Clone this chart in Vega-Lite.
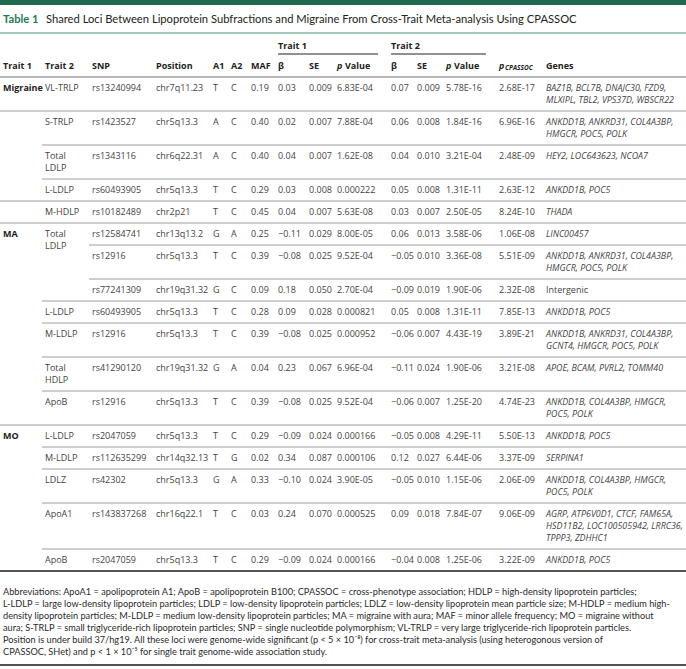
{
  "$schema": "https://vega.github.io/schema/vega-lite/v6.json",
  "width": 686,
  "height": 669,
  "padding": 0,
  "autosize": {"type": "none"},
  "background": "white",
  "config": {"view": {"stroke": null}},
  "datasets": {
    "cols": [
      {"key": "trait1", "c": 0}, {"key": "trait2", "c": 1}, {"key": "snp", "c": 2}, {"key": "position", "c": 3},
      {"key": "a1", "c": 4}, {"key": "a2", "c": 5}, {"key": "maf", "c": 6}, {"key": "beta1", "c": 7},
      {"key": "se1", "c": 8}, {"key": "p1", "c": 9}, {"key": "beta2", "c": 10}, {"key": "se2", "c": 11},
      {"key": "p2", "c": 12}, {"key": "pcp", "c": 13}, {"key": "genes", "c": 14}
    ],
    "table": [
      {"r": 1, "trait1": "Migraine", "trait2": "VL-TRLP", "snp": "rs13240994", "position": "chr7q11.23", "a1": "T", "a2": "C", "maf": "0.19", "beta1": "0.03", "se1": "0.009", "p1": "6.83E-04", "beta2": "0.07", "se2": "0.009", "p2": "5.78E-16", "pcp": "2.68E-17", "genes": "BAZ1B, BCL7B, DNAJC30, FZD9,\nMLXIPL, TBL2, VPS37D, WBSCR22"},
      {"r": 2, "trait2": "S-TRLP", "snp": "rs1423527", "position": "chr5q13.3", "a1": "A", "a2": "C", "maf": "0.40", "beta1": "0.02", "se1": "0.007", "p1": "7.88E-04", "beta2": "0.06", "se2": "0.008", "p2": "1.84E-16", "pcp": "6.96E-16", "genes": "ANKDD1B, ANKRD31, COL4A3BP,\nHMGCR, POC5, POLK"},
      {"r": 3, "trait2": "Total\nLDLP", "snp": "rs1343116", "position": "chr6q22.31", "a1": "A", "a2": "C", "maf": "0.40", "beta1": "0.04", "se1": "0.007", "p1": "1.62E-08", "beta2": "0.04", "se2": "0.010", "p2": "3.21E-04", "pcp": "2.48E-09", "genes": "HEY2, LOC643623, NCOA7"},
      {"r": 4, "trait2": "L-LDLP", "snp": "rs60493905", "position": "chr5q13.3", "a1": "T", "a2": "C", "maf": "0.29", "beta1": "0.03", "se1": "0.008", "p1": "0.000222", "beta2": "0.05", "se2": "0.008", "p2": "1.31E-11", "pcp": "2.63E-12", "genes": "ANKDD1B, POC5"},
      {"r": 5, "trait2": "M-HDLP", "snp": "rs10182489", "position": "chr2p21", "a1": "T", "a2": "C", "maf": "0.45", "beta1": "0.04", "se1": "0.007", "p1": "5.63E-08", "beta2": "0.03", "se2": "0.007", "p2": "2.50E-05", "pcp": "8.24E-10", "genes": "THADA"},
      {"r": 6, "trait1": "MA", "trait2": "Total\nLDLP", "snp": "rs12584741", "position": "chr13q13.2", "a1": "G", "a2": "A", "maf": "0.25", "beta1": "−0.11", "se1": "0.029", "p1": "8.00E-05", "beta2": "0.06", "se2": "0.013", "p2": "3.58E-06", "pcp": "1.06E-08", "genes": "LINC00457"},
      {"r": 7, "snp": "rs12916", "position": "chr5q13.3", "a1": "T", "a2": "C", "maf": "0.39", "beta1": "−0.08", "se1": "0.025", "p1": "9.52E-04", "beta2": "−0.05", "se2": "0.010", "p2": "3.36E-08", "pcp": "5.51E-09", "genes": "ANKDD1B, ANKRD31, COL4A3BP,\nHMGCR, POC5, POLK"},
      {"r": 8, "snp": "rs77241309", "position": "chr19q31.32", "a1": "G", "a2": "C", "maf": "0.09", "beta1": "0.18", "se1": "0.050", "p1": "2.70E-04", "beta2": "−0.09", "se2": "0.019", "p2": "1.90E-06", "pcp": "2.32E-08", "genes": "Intergenic"},
      {"r": 9, "trait2": "L-LDLP", "snp": "rs60493905", "position": "chr5q13.3", "a1": "T", "a2": "C", "maf": "0.28", "beta1": "0.09", "se1": "0.028", "p1": "0.000821", "beta2": "0.05", "se2": "0.008", "p2": "1.31E-11", "pcp": "7.85E-13", "genes": "ANKDD1B, POC5"},
      {"r": 10, "trait2": "M-LDLP", "snp": "rs12916", "position": "chr5q13.3", "a1": "T", "a2": "C", "maf": "0.39", "beta1": "−0.08", "se1": "0.025", "p1": "0.000952", "beta2": "−0.06", "se2": "0.007", "p2": "4.43E-19", "pcp": "3.89E-21", "genes": "ANKDD1B, ANKRD31, COL4A3BP,\nGCNT4, HMGCR, POC5, POLK"},
      {"r": 11, "trait2": "Total\nHDLP", "snp": "rs41290120", "position": "chr19q31.32", "a1": "G", "a2": "A", "maf": "0.04", "beta1": "0.23", "se1": "0.067", "p1": "6.96E-04", "beta2": "−0.11", "se2": "0.024", "p2": "1.90E-06", "pcp": "3.21E-08", "genes": "APOE, BCAM, PVRL2, TOMM40"},
      {"r": 12, "trait2": "ApoB", "snp": "rs12916", "position": "chr5q13.3", "a1": "T", "a2": "C", "maf": "0.39", "beta1": "−0.08", "se1": "0.025", "p1": "9.52E-04", "beta2": "−0.06", "se2": "0.007", "p2": "1.25E-20", "pcp": "4.74E-23", "genes": "ANKDD1B, COL4A3BP, HMGCR,\nPOC5, POLK"},
      {"r": 13, "trait1": "MO", "trait2": "L-LDLP", "snp": "rs2047059", "position": "chr5q13.3", "a1": "T", "a2": "C", "maf": "0.29", "beta1": "−0.09", "se1": "0.024", "p1": "0.000166", "beta2": "−0.05", "se2": "0.008", "p2": "4.29E-11", "pcp": "5.50E-13", "genes": "ANKDD1B, POC5"},
      {"r": 14, "trait2": "M-LDLP", "snp": "rs112635299", "position": "chr14q32.13", "a1": "T", "a2": "G", "maf": "0.02", "beta1": "0.34", "se1": "0.087", "p1": "0.000106", "beta2": "0.12", "se2": "0.027", "p2": "6.44E-06", "pcp": "3.37E-09", "genes": "SERPINA1"},
      {"r": 15, "trait2": "LDLZ", "snp": "rs42302", "position": "chr5q13.3", "a1": "G", "a2": "A", "maf": "0.33", "beta1": "−0.10", "se1": "0.024", "p1": "3.90E-05", "beta2": "−0.05", "se2": "0.010", "p2": "1.15E-06", "pcp": "2.06E-09", "genes": "ANKDD1B, COL4A3BP, HMGCR,\nPOC5, POLK"},
      {"r": 16, "trait2": "ApoA1", "snp": "rs143837268", "position": "chr16q22.1", "a1": "T", "a2": "C", "maf": "0.03", "beta1": "0.24", "se1": "0.070", "p1": "0.000525", "beta2": "0.09", "se2": "0.018", "p2": "7.84E-07", "pcp": "9.06E-09", "genes": "AGRP, ATP6V0D1, CTCF, FAM65A,\nHSD11B2, LOC100505942, LRRC36,\nTPPP3, ZDHHC1"},
      {"r": 17, "trait2": "ApoB", "snp": "rs2047059", "position": "chr5q13.3", "a1": "T", "a2": "C", "maf": "0.29", "beta1": "−0.09", "se1": "0.024", "p1": "0.000166", "beta2": "−0.04", "se2": "0.008", "p2": "1.25E-06", "pcp": "3.22E-09", "genes": "ANKDD1B, POC5"}
    ],
    "rules": [
      {"r": -5, "from": "trait1", "kind": "bar"},
      {"r": -3, "from": "trait1", "kind": "title"},
      {"r": 1, "from": "trait1", "kind": "header"},
      {"r": 2, "from": "trait1", "kind": "row"},
      {"r": 3, "from": "trait2", "kind": "row"},
      {"r": 4, "from": "trait2", "kind": "row"},
      {"r": 5, "from": "trait1", "kind": "row"},
      {"r": 6, "from": "trait1", "kind": "row"},
      {"r": 7, "from": "snp", "kind": "row"},
      {"r": 8, "from": "snp", "kind": "row"},
      {"r": 9, "from": "trait2", "kind": "row"},
      {"r": 10, "from": "trait2", "kind": "row"},
      {"r": 11, "from": "trait2", "kind": "row"},
      {"r": 12, "from": "trait2", "kind": "row"},
      {"r": 13, "from": "trait1", "kind": "row"},
      {"r": 14, "from": "trait2", "kind": "row"},
      {"r": 15, "from": "trait2", "kind": "row"},
      {"r": 16, "from": "trait2", "kind": "row"},
      {"r": 17, "from": "trait2", "kind": "row"},
      {"r": 18, "from": "trait1", "kind": "end"},
      {"r": 25, "from": "trait1", "kind": "foot"}
    ],
    "groups": [
      {"label": "Trait 1", "from": "beta1", "to": "beta2"},
      {"label": "Trait 2", "from": "beta2", "to": "pcp"}
    ],
    "headers": [
      {"key": "trait1", "t": "Trait 1"}, {"key": "trait2", "t": "Trait 2"}, {"key": "snp", "t": "SNP"},
      {"key": "position", "t": "Position"}, {"key": "a1", "t": "A1"}, {"key": "a2", "t": "A2"},
      {"key": "maf", "t": "MAF"}, {"key": "beta1", "t": "β"}, {"key": "se1", "t": "SE"},
      {"key": "beta2", "t": "β"}, {"key": "se2", "t": "SE"}, {"key": "genes", "t": "Genes"}
    ],
    "headerP": [{"key": "p1", "t": "p"}, {"key": "p2", "t": "p"}, {"key": "pcp", "t": "p"}],
    "headerValue": [{"key": "p1", "t": "Value"}, {"key": "p2", "t": "Value"}],
    "headerSub": [{"key": "pcp", "t": "CPASSOC"}],
    "title": [
      {"line": -4, "part": "label", "t": "Table 1"},
      {"line": -4, "part": "caption", "t": "Shared Loci Between Lipoprotein Subfractions and Migraine From Cross-Trait Meta-analysis Using CPASSOC"}
    ],
    "notes": [
      {"line": 19, "t": "Abbreviations: ApoA1 = apolipoprotein A1; ApoB = apolipoprotein B100; CPASSOC = cross-phenotype association; HDLP = high-density lipoprotein particles;"},
      {"line": 20, "t": "L-LDLP = large low-density lipoprotein particles; LDLP = low-density lipoprotein particles; LDLZ = low-density lipoprotein mean particle size; M-HDLP = medium high-"},
      {"line": 21, "t": "density lipoprotein particles; M-LDLP = medium low-density lipoprotein particles; MA = migraine with aura; MAF = minor allele frequency; MO = migraine without"},
      {"line": 22, "t": "aura; S-TRLP = small triglyceride-rich lipoprotein particles; SNP = single nucleotide polymorphism; VL-TRLP = very large triglyceride-rich lipoprotein particles."},
      {"line": 23, "t": "Position is under build 37/hg19. All these loci were genome-wide significant (p < 5 × 10⁻⁸) for cross-trait meta-analysis (using heterogonous version of"},
      {"line": 24, "t": "CPASSOC, SHet) and p < 1 × 10⁻⁵ for single trait genome-wide association study."}
    ]
  },
  "layer": [
    {
      "data": {"name": "rules"},
      "transform": [
        {"filter": "datum.kind == 'bar'"},
        {"lookup": "from", "from": {"data": {"name": "cols"}, "key": "key", "fields": ["c"]}}
      ],
      "mark": {"type": "rule", "xOffset": -3, "color": "#1f6a4f", "strokeWidth": 10},
      "encoding": {
        "x": {"field": "c", "type": "quantitative", "axis": null, "scale": {"domain": [-1,0,1,2,3,4,5,6,7,8,9,10,11,12,13,14,15], "range": [0,3,45,92,156,213,231,251,278,309,337,391,417,446,499,546,686], "zero": false, "nice": false}},
        "x2": {"datum": 15},
        "y": {"field": "r", "type": "quantitative", "axis": null, "scale": {"domain": [-5,-4,-3,-2,-1,0,1,2,3,4,5,6,7,8,9,10,11,12,13,14,15,16,17,18,19,20,21,22,23,24,25], "range": [0,20,33,46,54,55,77,111,145,179,201,223,245,279,301,323,357,391,425,447,469,503,549,571,592,604,616,628,640,652,665], "zero": false, "nice": false}}
      }
    },
    {
      "data": {"name": "rules"},
      "transform": [
        {"filter": "datum.kind == 'title' || datum.kind == 'header' || datum.kind == 'row'"},
        {"lookup": "from", "from": {"data": {"name": "cols"}, "key": "key", "fields": ["c"]}}
      ],
      "mark": {"type": "rule", "xOffset": -3, "strokeWidth": 1},
      "encoding": {
        "x": {"field": "c", "type": "quantitative", "axis": null, "scale": {"domain": [-1,0,1,2,3,4,5,6,7,8,9,10,11,12,13,14,15], "range": [0,3,45,92,156,213,231,251,278,309,337,391,417,446,499,546,686], "zero": false, "nice": false}},
        "x2": {"datum": 15},
        "y": {"field": "r", "type": "quantitative", "axis": null, "scale": {"domain": [-5,-4,-3,-2,-1,0,1,2,3,4,5,6,7,8,9,10,11,12,13,14,15,16,17,18,19,20,21,22,23,24,25], "range": [0,20,33,46,54,55,77,111,145,179,201,223,245,279,301,323,357,391,425,447,469,503,549,571,592,604,616,628,640,652,665], "zero": false, "nice": false}},
        "color": {"field": "kind", "type": "nominal", "legend": null, "scale": {"domain": ["title","header","row"], "range": ["#4a9474","#707070","#9c9c9c"]}}
      }
    },
    {
      "data": {"name": "rules"},
      "transform": [
        {"filter": "datum.kind == 'end' || datum.kind == 'foot'"},
        {"lookup": "from", "from": {"data": {"name": "cols"}, "key": "key", "fields": ["c"]}}
      ],
      "mark": {"type": "rule", "xOffset": -3, "strokeWidth": 1.6, "color": "#1a1a1a"},
      "encoding": {
        "x": {"field": "c", "type": "quantitative", "axis": null, "scale": {"domain": [-1,0,1,2,3,4,5,6,7,8,9,10,11,12,13,14,15], "range": [0,3,45,92,156,213,231,251,278,309,337,391,417,446,499,546,686], "zero": false, "nice": false}},
        "x2": {"datum": 15},
        "y": {"field": "r", "type": "quantitative", "axis": null, "scale": {"domain": [-5,-4,-3,-2,-1,0,1,2,3,4,5,6,7,8,9,10,11,12,13,14,15,16,17,18,19,20,21,22,23,24,25], "range": [0,20,33,46,54,55,77,111,145,179,201,223,245,279,301,323,357,391,425,447,469,503,549,571,592,604,616,628,640,652,665], "zero": false, "nice": false}}
      }
    },
    {
      "data": {"name": "groups"},
      "transform": [
        {"lookup": "from", "from": {"data": {"name": "cols"}, "key": "key", "fields": ["c"]}},
        {"lookup": "to", "from": {"data": {"name": "cols"}, "key": "key", "fields": ["c"]}, "as": ["c2"]}
      ],
      "mark": {"type": "rule", "color": "#222222", "strokeWidth": 1, "x2Offset": -13},
      "encoding": {
        "x": {"field": "c", "type": "quantitative", "axis": null, "scale": {"domain": [-1,0,1,2,3,4,5,6,7,8,9,10,11,12,13,14,15], "range": [0,3,45,92,156,213,231,251,278,309,337,391,417,446,499,546,686], "zero": false, "nice": false}},
        "x2": {"field": "c2"},
        "y": {"datum": -1, "type": "quantitative", "axis": null, "scale": {"domain": [-5,-4,-3,-2,-1,0,1,2,3,4,5,6,7,8,9,10,11,12,13,14,15,16,17,18,19,20,21,22,23,24,25], "range": [0,20,33,46,54,55,77,111,145,179,201,223,245,279,301,323,357,391,425,447,469,503,549,571,592,604,616,628,640,652,665], "zero": false, "nice": false}}
      }
    },
    {
      "data": {"name": "groups"},
      "transform": [{"lookup": "from", "from": {"data": {"name": "cols"}, "key": "key", "fields": ["c"]}}],
      "mark": {"type": "text", "font": "Open Sans", "fontSize": 9, "fontWeight": "bold", "color": "#222222", "align": "left", "baseline": "middle"},
      "encoding": {
        "x": {"field": "c", "type": "quantitative", "axis": null, "scale": {"domain": [-1,0,1,2,3,4,5,6,7,8,9,10,11,12,13,14,15], "range": [0,3,45,92,156,213,231,251,278,309,337,391,417,446,499,546,686], "zero": false, "nice": false}},
        "y": {"datum": -2, "type": "quantitative", "axis": null, "scale": {"domain": [-5,-4,-3,-2,-1,0,1,2,3,4,5,6,7,8,9,10,11,12,13,14,15,16,17,18,19,20,21,22,23,24,25], "range": [0,20,33,46,54,55,77,111,145,179,201,223,245,279,301,323,357,391,425,447,469,503,549,571,592,604,616,628,640,652,665], "zero": false, "nice": false}},
        "text": {"field": "label", "type": "nominal"}
      }
    },
    {
      "data": {"name": "headers"},
      "transform": [{"lookup": "key", "from": {"data": {"name": "cols"}, "key": "key", "fields": ["c"]}}],
      "mark": {"type": "text", "font": "Open Sans", "fontSize": 9, "fontWeight": "bold", "color": "#222222", "align": "left", "baseline": "alphabetic", "dy": 13.5},
      "encoding": {
        "x": {"field": "c", "type": "quantitative", "axis": null, "scale": {"domain": [-1,0,1,2,3,4,5,6,7,8,9,10,11,12,13,14,15], "range": [0,3,45,92,156,213,231,251,278,309,337,391,417,446,499,546,686], "zero": false, "nice": false}},
        "y": {"datum": 0, "type": "quantitative", "axis": null, "scale": {"domain": [-5,-4,-3,-2,-1,0,1,2,3,4,5,6,7,8,9,10,11,12,13,14,15,16,17,18,19,20,21,22,23,24,25], "range": [0,20,33,46,54,55,77,111,145,179,201,223,245,279,301,323,357,391,425,447,469,503,549,571,592,604,616,628,640,652,665], "zero": false, "nice": false}},
        "text": {"field": "t", "type": "nominal"}
      }
    },
    {
      "data": {"name": "headerP"},
      "transform": [{"lookup": "key", "from": {"data": {"name": "cols"}, "key": "key", "fields": ["c"]}}],
      "mark": {"type": "text", "font": "Open Sans", "fontSize": 9, "fontWeight": "bold", "fontStyle": "italic", "color": "#222222", "align": "left", "baseline": "alphabetic", "dy": 13.5},
      "encoding": {
        "x": {"field": "c", "type": "quantitative", "axis": null, "scale": {"domain": [-1,0,1,2,3,4,5,6,7,8,9,10,11,12,13,14,15], "range": [0,3,45,92,156,213,231,251,278,309,337,391,417,446,499,546,686], "zero": false, "nice": false}},
        "y": {"datum": 0, "type": "quantitative", "axis": null, "scale": {"domain": [-5,-4,-3,-2,-1,0,1,2,3,4,5,6,7,8,9,10,11,12,13,14,15,16,17,18,19,20,21,22,23,24,25], "range": [0,20,33,46,54,55,77,111,145,179,201,223,245,279,301,323,357,391,425,447,469,503,549,571,592,604,616,628,640,652,665], "zero": false, "nice": false}},
        "text": {"field": "t", "type": "nominal"}
      }
    },
    {
      "data": {"name": "headerValue"},
      "transform": [{"lookup": "key", "from": {"data": {"name": "cols"}, "key": "key", "fields": ["c"]}}],
      "mark": {"type": "text", "font": "Open Sans", "fontSize": 9, "fontWeight": "bold", "color": "#222222", "align": "left", "baseline": "alphabetic", "dy": 13.5, "dx": 8},
      "encoding": {
        "x": {"field": "c", "type": "quantitative", "axis": null, "scale": {"domain": [-1,0,1,2,3,4,5,6,7,8,9,10,11,12,13,14,15], "range": [0,3,45,92,156,213,231,251,278,309,337,391,417,446,499,546,686], "zero": false, "nice": false}},
        "y": {"datum": 0, "type": "quantitative", "axis": null, "scale": {"domain": [-5,-4,-3,-2,-1,0,1,2,3,4,5,6,7,8,9,10,11,12,13,14,15,16,17,18,19,20,21,22,23,24,25], "range": [0,20,33,46,54,55,77,111,145,179,201,223,245,279,301,323,357,391,425,447,469,503,549,571,592,604,616,628,640,652,665], "zero": false, "nice": false}},
        "text": {"field": "t", "type": "nominal"}
      }
    },
    {
      "data": {"name": "headerSub"},
      "transform": [{"lookup": "key", "from": {"data": {"name": "cols"}, "key": "key", "fields": ["c"]}}],
      "mark": {"type": "text", "font": "Open Sans", "fontSize": 6.5, "fontWeight": "bold", "fontStyle": "italic", "color": "#222222", "align": "left", "baseline": "alphabetic", "dy": 15, "dx": 6},
      "encoding": {
        "x": {"field": "c", "type": "quantitative", "axis": null, "scale": {"domain": [-1,0,1,2,3,4,5,6,7,8,9,10,11,12,13,14,15], "range": [0,3,45,92,156,213,231,251,278,309,337,391,417,446,499,546,686], "zero": false, "nice": false}},
        "y": {"datum": 0, "type": "quantitative", "axis": null, "scale": {"domain": [-5,-4,-3,-2,-1,0,1,2,3,4,5,6,7,8,9,10,11,12,13,14,15,16,17,18,19,20,21,22,23,24,25], "range": [0,20,33,46,54,55,77,111,145,179,201,223,245,279,301,323,357,391,425,447,469,503,549,571,592,604,616,628,640,652,665], "zero": false, "nice": false}},
        "text": {"field": "t", "type": "nominal"}
      }
    },
    {
      "data": {"name": "table"},
      "transform": [
        {"fold": ["trait2","snp","position","a1","a2","maf","beta1","se1","p1","beta2","se2","p2","pcp","genes"], "as": ["key","value"]},
        {"filter": "isValid(datum.value) && (datum.key != 'genes' || datum.value == 'Intergenic')"},
        {"lookup": "key", "from": {"data": {"name": "cols"}, "key": "key", "fields": ["c"]}}
      ],
      "mark": {"type": "text", "font": "Open Sans", "fontSize": 9, "color": "#444444", "align": "left", "baseline": "alphabetic", "dy": 13.5, "lineHeight": 12, "lineBreak": "\n"},
      "encoding": {
        "x": {"field": "c", "type": "quantitative", "axis": null, "scale": {"domain": [-1,0,1,2,3,4,5,6,7,8,9,10,11,12,13,14,15], "range": [0,3,45,92,156,213,231,251,278,309,337,391,417,446,499,546,686], "zero": false, "nice": false}},
        "y": {"field": "r", "type": "quantitative", "axis": null, "scale": {"domain": [-5,-4,-3,-2,-1,0,1,2,3,4,5,6,7,8,9,10,11,12,13,14,15,16,17,18,19,20,21,22,23,24,25], "range": [0,20,33,46,54,55,77,111,145,179,201,223,245,279,301,323,357,391,425,447,469,503,549,571,592,604,616,628,640,652,665], "zero": false, "nice": false}},
        "text": {"field": "value", "type": "nominal"}
      }
    },
    {
      "data": {"name": "table"},
      "transform": [
        {"fold": ["trait1"], "as": ["key","value"]},
        {"filter": "isValid(datum.value)"},
        {"lookup": "key", "from": {"data": {"name": "cols"}, "key": "key", "fields": ["c"]}}
      ],
      "mark": {"type": "text", "font": "Open Sans", "fontSize": 9, "fontWeight": "bold", "color": "#222222", "align": "left", "baseline": "alphabetic", "dy": 13.5},
      "encoding": {
        "x": {"field": "c", "type": "quantitative", "axis": null, "scale": {"domain": [-1,0,1,2,3,4,5,6,7,8,9,10,11,12,13,14,15], "range": [0,3,45,92,156,213,231,251,278,309,337,391,417,446,499,546,686], "zero": false, "nice": false}},
        "y": {"field": "r", "type": "quantitative", "axis": null, "scale": {"domain": [-5,-4,-3,-2,-1,0,1,2,3,4,5,6,7,8,9,10,11,12,13,14,15,16,17,18,19,20,21,22,23,24,25], "range": [0,20,33,46,54,55,77,111,145,179,201,223,245,279,301,323,357,391,425,447,469,503,549,571,592,604,616,628,640,652,665], "zero": false, "nice": false}},
        "text": {"field": "value", "type": "nominal"}
      }
    },
    {
      "data": {"name": "table"},
      "transform": [
        {"fold": ["genes"], "as": ["key","value"]},
        {"filter": "isValid(datum.value) && datum.value != 'Intergenic'"},
        {"lookup": "key", "from": {"data": {"name": "cols"}, "key": "key", "fields": ["c"]}}
      ],
      "mark": {"type": "text", "font": "Open Sans", "fontSize": 8.9, "fontStyle": "italic", "color": "#444444", "align": "left", "baseline": "alphabetic", "dy": 13.5, "lineHeight": 12, "lineBreak": "\n"},
      "encoding": {
        "x": {"field": "c", "type": "quantitative", "axis": null, "scale": {"domain": [-1,0,1,2,3,4,5,6,7,8,9,10,11,12,13,14,15], "range": [0,3,45,92,156,213,231,251,278,309,337,391,417,446,499,546,686], "zero": false, "nice": false}},
        "y": {"field": "r", "type": "quantitative", "axis": null, "scale": {"domain": [-5,-4,-3,-2,-1,0,1,2,3,4,5,6,7,8,9,10,11,12,13,14,15,16,17,18,19,20,21,22,23,24,25], "range": [0,20,33,46,54,55,77,111,145,179,201,223,245,279,301,323,357,391,425,447,469,503,549,571,592,604,616,628,640,652,665], "zero": false, "nice": false}},
        "text": {"field": "value", "type": "nominal"}
      }
    },
    {
      "data": {"name": "title"},
      "transform": [{"filter": "datum.part == 'label'"}],
      "mark": {"type": "text", "font": "Lato", "fontSize": 11.2, "fontWeight": "bold", "color": "#1f7a55", "align": "left", "baseline": "middle"},
      "encoding": {
        "x": {"datum": 0, "type": "quantitative", "axis": null, "scale": {"domain": [-1,0,1,2,3,4,5,6,7,8,9,10,11,12,13,14,15], "range": [0,3,45,92,156,213,231,251,278,309,337,391,417,446,499,546,686], "zero": false, "nice": false}},
        "y": {"field": "line", "type": "quantitative", "axis": null, "scale": {"domain": [-5,-4,-3,-2,-1,0,1,2,3,4,5,6,7,8,9,10,11,12,13,14,15,16,17,18,19,20,21,22,23,24,25], "range": [0,20,33,46,54,55,77,111,145,179,201,223,245,279,301,323,357,391,425,447,469,503,549,571,592,604,616,628,640,652,665], "zero": false, "nice": false}},
        "text": {"field": "t", "type": "nominal"}
      }
    },
    {
      "data": {"name": "title"},
      "transform": [{"filter": "datum.part == 'caption'"}],
      "mark": {"type": "text", "font": "Lato", "fontSize": 11.2, "color": "#222222", "align": "left", "baseline": "middle", "dx": 43},
      "encoding": {
        "x": {"datum": 0, "type": "quantitative", "axis": null, "scale": {"domain": [-1,0,1,2,3,4,5,6,7,8,9,10,11,12,13,14,15], "range": [0,3,45,92,156,213,231,251,278,309,337,391,417,446,499,546,686], "zero": false, "nice": false}},
        "y": {"field": "line", "type": "quantitative", "axis": null, "scale": {"domain": [-5,-4,-3,-2,-1,0,1,2,3,4,5,6,7,8,9,10,11,12,13,14,15,16,17,18,19,20,21,22,23,24,25], "range": [0,20,33,46,54,55,77,111,145,179,201,223,245,279,301,323,357,391,425,447,469,503,549,571,592,604,616,628,640,652,665], "zero": false, "nice": false}},
        "text": {"field": "t", "type": "nominal"}
      }
    },
    {
      "data": {"name": "notes"},
      "mark": {"type": "text", "font": "Lato", "fontSize": 9.2, "color": "#2a2a2a", "align": "left", "baseline": "middle"},
      "encoding": {
        "x": {"datum": 0, "type": "quantitative", "axis": null, "scale": {"domain": [-1,0,1,2,3,4,5,6,7,8,9,10,11,12,13,14,15], "range": [0,3,45,92,156,213,231,251,278,309,337,391,417,446,499,546,686], "zero": false, "nice": false}},
        "y": {"field": "line", "type": "quantitative", "axis": null, "scale": {"domain": [-5,-4,-3,-2,-1,0,1,2,3,4,5,6,7,8,9,10,11,12,13,14,15,16,17,18,19,20,21,22,23,24,25], "range": [0,20,33,46,54,55,77,111,145,179,201,223,245,279,301,323,357,391,425,447,469,503,549,571,592,604,616,628,640,652,665], "zero": false, "nice": false}},
        "text": {"field": "t", "type": "nominal"}
      }
    }
  ]
}
